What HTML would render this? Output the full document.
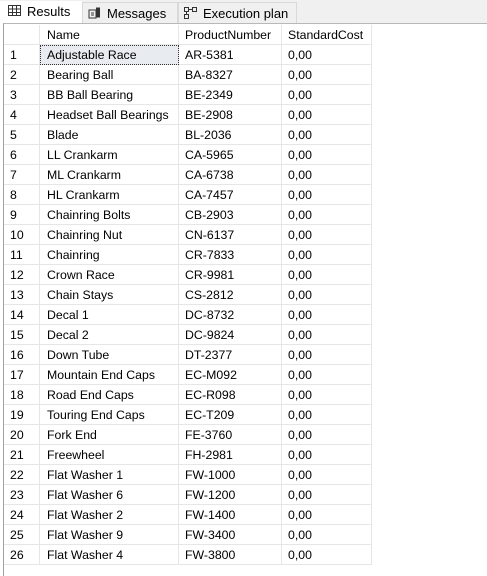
<!DOCTYPE html>
<html><head><meta charset="utf-8"><style>
*{margin:0;padding:0;box-sizing:border-box}
body{width:487px;height:576px;background:#fff;font-family:"Liberation Sans",Arial,sans-serif;font-size:12.3px;color:#000;position:relative;overflow:hidden}
.tabbar{position:absolute;left:0;top:0;width:487px;height:23px;background:#f0f0f0}
.tab{position:absolute;top:1px;height:22px;line-height:22px;font-size:13px;white-space:nowrap}
.grid{position:absolute;left:3px;top:23px;width:484px;height:553px;border-top:1px solid #b8b8b8;border-left:1px solid #a0a0a0;background:#fff}
.row{position:absolute;left:4px;height:20px;width:368px}
.c{position:absolute;top:0;height:20px;line-height:21px;border-right:1px solid #e6e6e6;border-bottom:1px solid #e6e6e6;white-space:nowrap}
.c0{left:0;width:36px;padding-left:6px}
.c1{left:36px;width:139px;padding-left:7px}
.c2{left:175px;width:103px;padding-left:6px}
.c3{left:278px;width:90px;padding-left:6px}
.focus{background:#e8ecf0;outline:1px dotted #333;outline-offset:-1px}
</style></head><body>
<div class="tabbar">
 <div class="tab" style="left:0;width:82px;background:#fff;padding-left:8px">
  <svg width="14" height="12" style="vertical-align:-1px;margin-right:5px"><rect x="0.5" y="0.5" width="12" height="10" fill="none" stroke="#333"/><path d="M0 4h13M0 7.5h13M4.5 0v11M8.5 0v11" stroke="#333"/></svg>Results</div>
 <div class="tab" style="left:82px;width:96px;border:1px solid #d9d9d9;padding-left:5px;top:2px">
  <svg width="14" height="12" style="vertical-align:-1px;margin-right:5px"><rect x="1" y="3" width="7" height="8" fill="none" stroke="#333"/><rect x="8" y="0.5" width="4" height="10" fill="#333"/><path d="M3 6h3M3 8h3" stroke="#333"/></svg>Messages</div>
 <div class="tab" style="left:178px;width:119px;border:1px solid #d9d9d9;padding-left:5px;top:2px">
  <svg width="14" height="12" style="vertical-align:-1px;margin-right:5px"><rect x="0.5" y="0.5" width="4" height="4" fill="none" stroke="#333"/><rect x="8.5" y="0.5" width="4" height="4" fill="none" stroke="#333"/><rect x="0.5" y="7.5" width="4" height="4" fill="none" stroke="#333"/><path d="M4.5 2.5h4M2.5 4.5v3" stroke="#333"/></svg>Execution plan</div>
</div>
<div class="grid"></div>
<div id="rows"></div>
<script>
const names=["Adjustable Race","Bearing Ball","BB Ball Bearing","Headset Ball Bearings","Blade","LL Crankarm","ML Crankarm","HL Crankarm","Chainring Bolts","Chainring Nut","Chainring","Crown Race","Chain Stays","Decal 1","Decal 2","Down Tube","Mountain End Caps","Road End Caps","Touring End Caps","Fork End","Freewheel","Flat Washer 1","Flat Washer 6","Flat Washer 2","Flat Washer 9","Flat Washer 4"];
const nums=["AR-5381","BA-8327","BE-2349","BE-2908","BL-2036","CA-5965","CA-6738","CA-7457","CB-2903","CN-6137","CR-7833","CR-9981","CS-2812","DC-8732","DC-9824","DT-2377","EC-M092","EC-R098","EC-T209","FE-3760","FH-2981","FW-1000","FW-1200","FW-1400","FW-3400","FW-3800"];
const container=document.getElementById('rows');
function mk(top,cells,name,focus){
 const r=document.createElement('div');r.className='row';r.style.top=top+'px';
 
 
 cells.forEach((t,i)=>{const c=document.createElement('div');c.className='c c'+i+(focus&&i===1?' focus':'');c.textContent=t;
  
  
  r.appendChild(c);});
 container.appendChild(r);
}
mk(25,["","Name","ProductNumber","StandardCost"],'header-row',false);
names.forEach((n,i)=>mk(45+i*20,[String(i+1),n,nums[i],"0,00"],'data-row',i===0));
</script>
</body></html>
